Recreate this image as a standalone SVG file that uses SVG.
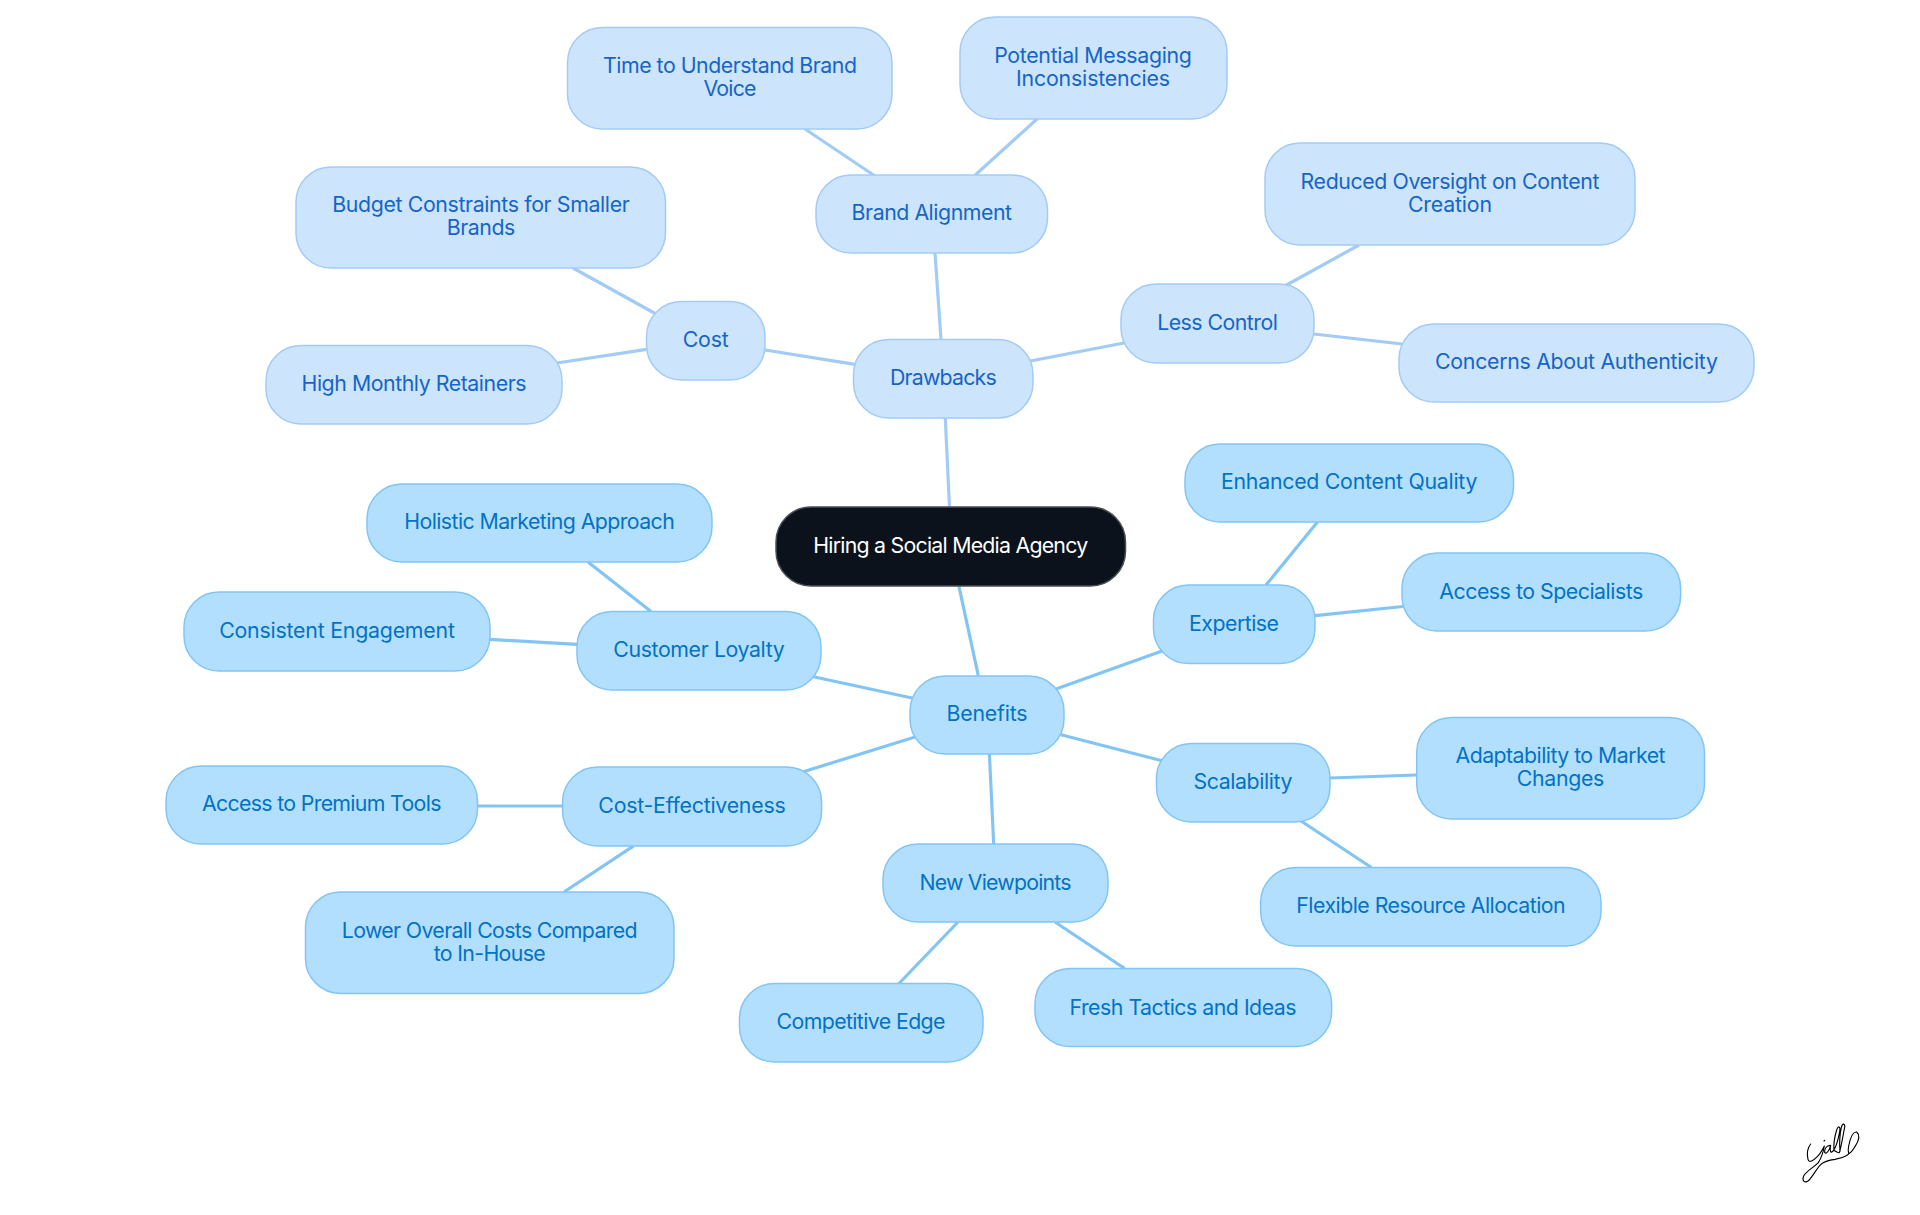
<svg xmlns="http://www.w3.org/2000/svg" width="1920" height="1215" viewBox="0 0 1920 1215">
<style>
text{font-family:"Inter","Noto Sans","Liberation Sans",sans-serif;font-size:21.3px;text-anchor:middle}
.t rect{fill:#cde4fd;stroke:#a2cbf6;stroke-width:1.5}
.t text{fill:#1565c8}
.b rect{fill:#b3dffe;stroke:#82c5f5;stroke-width:1.5}
.b text{fill:#0272c6}
.r rect{fill:#0b121b;stroke:#4a4f55;stroke-width:1.5}
.r text{fill:#fff}
#connectors line{stroke-width:3.2;stroke-linecap:butt}
.ct{stroke:#a2cbf6}
.cb{stroke:#82c5f5}
</style>
<rect width="1920" height="1215" fill="#fff"/>
<g id="connectors">
<line class="ct" x1="945.3" y1="418" x2="949.5" y2="507.5"/>
<line class="cb" x1="959" y1="586.7" x2="978.3" y2="675.7"/>
<line class="ct" x1="941" y1="339.5" x2="935" y2="253"/>
<line class="ct" x1="875" y1="176" x2="805" y2="129"/>
<line class="ct" x1="975.3" y1="175" x2="1037" y2="119"/>
<line class="ct" x1="855" y1="364.3" x2="765" y2="350"/>
<line class="ct" x1="656" y1="314" x2="573" y2="268"/>
<line class="ct" x1="646.5" y1="349.4" x2="557" y2="363"/>
<line class="ct" x1="1030.4" y1="361" x2="1124" y2="343"/>
<line class="ct" x1="1285.7" y1="285.5" x2="1359" y2="245"/>
<line class="ct" x1="1314" y1="334" x2="1402" y2="344"/>
<line class="cb" x1="912" y1="698" x2="812.4" y2="676.5"/>
<line class="cb" x1="651" y1="611.5" x2="588" y2="562"/>
<line class="cb" x1="577" y1="644.4" x2="490" y2="639.4"/>
<line class="cb" x1="915" y1="737" x2="802.6" y2="772"/>
<line class="cb" x1="562.6" y1="806" x2="477.5" y2="806"/>
<line class="cb" x1="634" y1="845.7" x2="564" y2="892"/>
<line class="cb" x1="989.4" y1="754" x2="993.7" y2="844"/>
<line class="cb" x1="958" y1="922" x2="899" y2="983.5"/>
<line class="cb" x1="1055" y1="922" x2="1124.7" y2="968.5"/>
<line class="cb" x1="1061" y1="734.7" x2="1162" y2="760.7"/>
<line class="cb" x1="1330" y1="778" x2="1416.7" y2="775"/>
<line class="cb" x1="1301" y1="821" x2="1371.4" y2="867.5"/>
<line class="cb" x1="1056" y1="689" x2="1162" y2="651"/>
<line class="cb" x1="1266" y1="585" x2="1317.5" y2="522"/>
<line class="cb" x1="1315" y1="615.7" x2="1403" y2="606.5"/>
</g>
<g id="root" class="r"><rect x="776" y="507" width="349.5" height="79" rx="35"/><text x="950.7" y="552.7" textLength="275">Hiring a Social Media Agency</text></g>
<g id="drawbacks" class="t"><rect x="853.5" y="339.5" width="179.5" height="78.5" rx="35"/><text x="943.3" y="385" textLength="106.7">Drawbacks</text></g>
<g id="brand-alignment" class="t"><rect x="816" y="175" width="231.5" height="78" rx="35"/><text x="931.8" y="219.7" textLength="160.4">Brand Alignment</text></g>
<g id="time" class="t"><rect x="567.5" y="27.5" width="324.5" height="101.5" rx="35"/><text x="730" y="72.7" textLength="254">Time to Understand Brand</text><text x="730" y="95.7" textLength="53">Voice</text></g>
<g id="potential" class="t"><rect x="960" y="17" width="267" height="102" rx="35"/><text x="1093" y="63" textLength="197.7">Potential Messaging</text><text x="1093" y="86" textLength="154">Inconsistencies</text></g>
<g id="cost" class="t"><rect x="646.5" y="301.5" width="118.5" height="78.5" rx="35"/><text x="705.7" y="346.8" textLength="46">Cost</text></g>
<g id="budget" class="t"><rect x="296" y="167" width="369.5" height="101" rx="35"/><text x="481" y="212.4" textLength="297.5">Budget Constraints for Smaller</text><text x="481" y="235.4" textLength="68.6">Brands</text></g>
<g id="high-monthly" class="t"><rect x="266" y="345.5" width="296" height="78.5" rx="35"/><text x="414" y="390.8" textLength="225">High Monthly Retainers</text></g>
<g id="less-control" class="t"><rect x="1121" y="284" width="193" height="79" rx="35"/><text x="1217.5" y="330" textLength="120.6">Less Control</text></g>
<g id="reduced" class="t"><rect x="1265" y="143" width="370" height="102" rx="35"/><text x="1450" y="189.4" textLength="298.8">Reduced Oversight on Content</text><text x="1450" y="212.4" textLength="84">Creation</text></g>
<g id="concerns" class="t"><rect x="1399" y="324" width="355" height="78" rx="35"/><text x="1576.5" y="369.3" textLength="282.8">Concerns About Authenticity</text></g>
<g id="benefits" class="b"><rect x="910" y="676" width="154" height="78" rx="35"/><text x="987" y="720.7" textLength="81">Benefits</text></g>
<g id="customer-loyalty" class="b"><rect x="577" y="611.5" width="244" height="78.5" rx="35"/><text x="699" y="657.4" textLength="171.4">Customer Loyalty</text></g>
<g id="holistic" class="b"><rect x="367" y="484" width="345" height="78" rx="35"/><text x="539.5" y="529" textLength="270.6">Holistic Marketing Approach</text></g>
<g id="consistent" class="b"><rect x="184" y="592" width="306" height="79" rx="35"/><text x="337" y="638.3" textLength="235.7">Consistent Engagement</text></g>
<g id="cost-effectiveness" class="b"><rect x="562.6" y="767" width="259" height="79" rx="35"/><text x="692" y="812.8" textLength="187.3">Cost-Effectiveness</text></g>
<g id="premium" class="b"><rect x="166" y="766" width="311.5" height="78" rx="35"/><text x="321.7" y="811" textLength="239.4">Access to Premium Tools</text></g>
<g id="lower" class="b"><rect x="305.5" y="892" width="368.5" height="101.4" rx="35"/><text x="489.7" y="938.2" textLength="295.7">Lower Overall Costs Compared</text><text x="489.7" y="961.2" textLength="112">to In-House</text></g>
<g id="new-viewpoints" class="b"><rect x="883" y="844" width="225" height="78" rx="35"/><text x="995.5" y="890" textLength="152">New Viewpoints</text></g>
<g id="competitive" class="b"><rect x="739.5" y="983.5" width="243.5" height="78.5" rx="35"/><text x="861" y="1029.4" textLength="169">Competitive Edge</text></g>
<g id="fresh" class="b"><rect x="1035" y="968.5" width="296.6" height="78" rx="35"/><text x="1183" y="1014.5" textLength="227">Fresh Tactics and Ideas</text></g>
<g id="scalability" class="b"><rect x="1156.5" y="743.5" width="173.5" height="78.5" rx="35"/><text x="1243" y="789.4" textLength="99">Scalability</text></g>
<g id="adaptability" class="b"><rect x="1416.7" y="717.5" width="287.8" height="101.5" rx="35"/><text x="1560.5" y="763.4" textLength="210">Adaptability to Market</text><text x="1560.5" y="786.4" textLength="87.5">Changes</text></g>
<g id="flexible" class="b"><rect x="1260.6" y="867.5" width="340.4" height="78.5" rx="35"/><text x="1431" y="913" textLength="269.4">Flexible Resource Allocation</text></g>
<g id="expertise" class="b"><rect x="1153.5" y="585" width="161.5" height="78.5" rx="35"/><text x="1234" y="631.4" textLength="90">Expertise</text></g>
<g id="enhanced" class="b"><rect x="1185" y="444" width="328.5" height="78" rx="35"/><text x="1349.2" y="489" textLength="256.5">Enhanced Content Quality</text></g>
<g id="specialists" class="b"><rect x="1402" y="553" width="278.6" height="78" rx="35"/><text x="1541.3" y="599" textLength="204">Access to Specialists</text></g>
<g id="signature" transform="translate(1800 1120) scale(.3333)" fill="none" stroke="#000" stroke-width="3.4" stroke-linecap="round" stroke-linejoin="round">
<path d="M32 72C24 82 20 100 24 118C28 130 40 122 52 110C60 102 68 88 73 78C70 95 65 112 55 128C42 142 20 152 11 168C5 182 14 190 24 183C36 174 48 148 62 134C72 124 88 120 105 118C125 115 152 104 165 80C174 66 182 46 170 36C158 34 150 58 146 78C144 88 144 94 146 100"/>
<path d="M90 76C80 76 72 88 74 98C80 104 88 90 92 76C90 86 89 94 94 97C104 92 114 62 119 35C122 18 114 16 110 30C104 50 100 72 102 92C108 92 112 100 118 98C124 80 130 40 134 22C136 10 128 8 124 22C120 40 118 70 120 94"/>
<path d="M72 63L74 61"/>
</g>
</svg>
